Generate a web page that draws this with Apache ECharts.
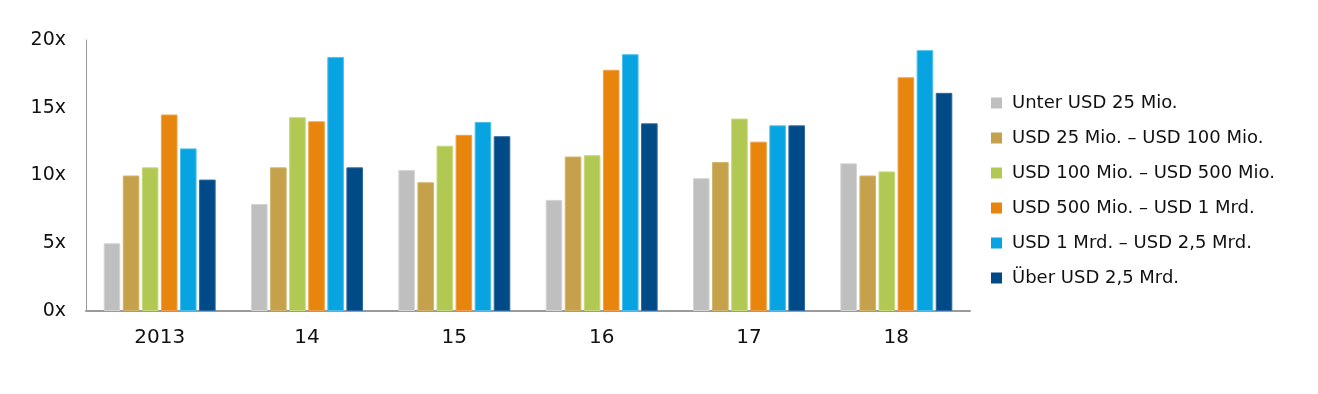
<!DOCTYPE html>
<html>
<head>
<meta charset="utf-8">
<script src="https://cdn.jsdelivr.net/npm/echarts@6/dist/echarts.min.js"></script>
<style>html,body{margin:0;padding:0;background:#fff;}#c{width:1318px;height:394px;}</style>
</head>
<body>
<div id="c"></div>
<script>
const categories = ['2013', '14', '15', '16', '17', '18'];
const yTicks = [0, 5, 10, 15, 20];
const seriesNames = ['Unter USD 25 Mio.', 'USD 25 Mio. – USD 100 Mio.', 'USD 100 Mio. – USD 500 Mio.', 'USD 500 Mio. – USD 1 Mrd.', 'USD 1 Mrd. – USD 2,5 Mrd.', 'Über USD 2,5 Mrd.'];
const unter25 = [5.0, 7.9, 10.4, 8.2, 9.8, 10.9];
const usd25to100 = [10.0, 10.6, 9.5, 11.4, 11.0, 10.0];
const usd100to500 = [10.6, 14.3, 12.2, 11.5, 14.2, 10.3];
const usd500to1000 = [14.5, 14.0, 13.0, 17.8, 12.5, 17.25];
const usd1000to2500 = [12.0, 18.75, 13.95, 18.95, 13.7, 19.25];
const ueber2500 = [9.7, 10.6, 12.9, 13.85, 13.7, 16.1];

const values = [unter25, usd25to100, usd100to500, usd500to1000, usd1000to2500, ueber2500];
const colors = ['#BFBFBF', '#C4A14A', '#B1C952', '#E8850C', '#08A3E1', '#004B87'];
const borders = ['#D4D4D4', '#D2B56A', '#C5D97A', '#F0A04A', '#4DBEEB', '#2A6AA0'];
const FONT = 'DejaVu Sans';

const chart = echarts.init(document.getElementById('c'), null, {renderer: 'canvas'});
chart.setOption({
  animation: false,
  backgroundColor: '#fff',
  grid: {left: 86, right: 348, top: 40, bottom: 83, containLabel: false},
  legend: {
    orient: 'vertical', left: 986, top: 88,
    itemWidth: 11, itemHeight: 11, itemGap: 15,
    icon: 'rect',
    itemStyle: {borderWidth: 0},
    textStyle: {fontFamily: FONT, fontSize: 18, color: '#111', lineHeight: 20, padding: [0, 0, 0, 5]},
    data: seriesNames
  },
  xAxis: {
    type: 'category', data: categories,
    axisLine: {show: true, lineStyle: {color: '#9A9A9A', width: 2}},
    axisTick: {show: false},
    axisLabel: {fontFamily: FONT, fontSize: 20, color: '#111', margin: 17}
  },
  yAxis: {
    type: 'value', min: 0, max: 20, interval: 5,
    axisLine: {show: true, lineStyle: {color: '#9A9A9A', width: 1}},
    axisTick: {show: false},
    splitLine: {show: false},
    axisLabel: {fontFamily: FONT, fontSize: 19, color: '#111', margin: 20,
      formatter: v => yTicks.includes(v) ? v + 'x' : ''}
  },
  series: seriesNames.map((n, i) => ({
    name: n, type: 'bar', data: values[i],
    barCategoryGap: '24%', barGap: '15%',
    itemStyle: {color: colors[i], borderColor: borders[i], borderWidth: 1}
  }))
});
</script>
</body>
</html>
